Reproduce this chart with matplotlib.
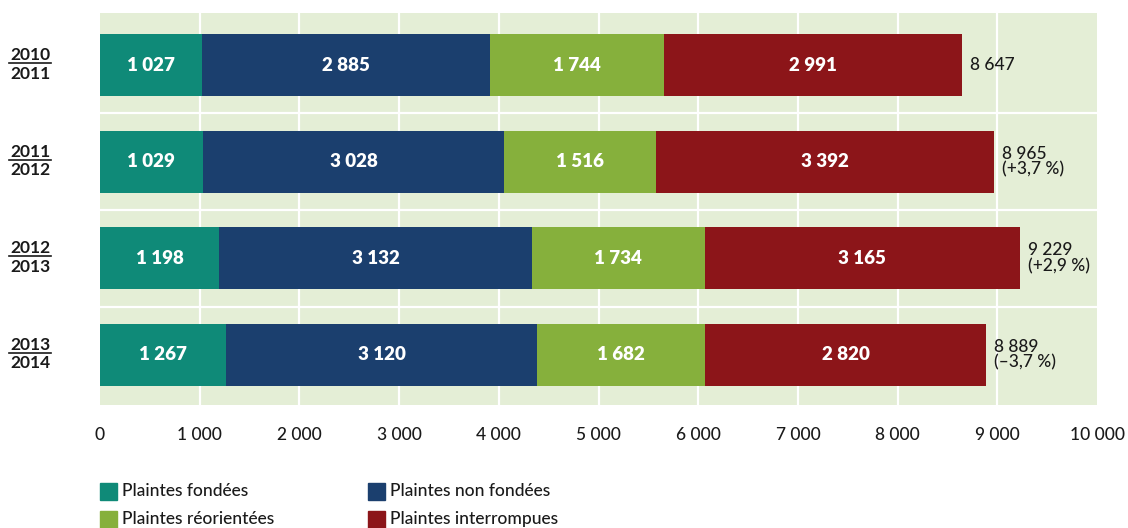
import matplotlib
matplotlib.use("Agg")
import matplotlib.pyplot as plt
from matplotlib.patches import Rectangle
from matplotlib.lines import Line2D
import numpy as np

plt.rcParams['font.family'] = ['Lato', 'DejaVu Sans']

periods_top = ["2010", "2011", "2012", "2013"]
periods_bottom = ["2011", "2012", "2013", "2014"]
categories = ["Plaintes fondées", "Plaintes non fondées", "Plaintes réorientées", "Plaintes interrompues"]
fondees = [1027, 1029, 1198, 1267]
non_fondees = [2885, 3028, 3132, 3120]
reorientees = [1744, 1516, 1734, 1682]
interrompues = [2991, 3392, 3165, 2820]
totals = ["8 647", "8 965", "9 229", "8 889"]
changes = ["", "(+3,7\u202f%)", "(+2,9\u202f%)", "(\u20133,7\u202f%)"]
xticks = [0, 1000, 2000, 3000, 4000, 5000, 6000, 7000, 8000, 9000, 10000]
xticklabels = ["0", "1 000", "2 000", "3 000", "4 000", "5 000", "6 000", "7 000", "8 000", "9 000", "10 000"]

colors = ["#0f8a78", "#1b3f6e", "#86b03c", "#8c1519"]
series = [fondees, non_fondees, reorientees, interrompues]

W, H = 1128, 528
fig = plt.figure(figsize=(W / 100, H / 100), dpi=100)
ax = fig.add_axes([100 / W, 1 - 405 / H, 997 / W, 392 / H])
ax.set_facecolor("#e4eed6")
for s in ax.spines.values():
    s.set_visible(False)

y = np.arange(len(fondees))
left = np.zeros(len(y))
for vals, col in zip(series, colors):
    vals = np.array(vals, dtype=float)
    ax.barh(y, vals, left=left, height=0.64, color=col, zorder=3)
    for yi, (l, v) in enumerate(zip(left, vals)):
        ax.text(l + v / 2, yi, f"{int(v):,}".replace(",", " "), ha="center", va="center",
                color="white", fontsize=13.5, fontweight="heavy", zorder=4)
    left = left + vals

for yi, tot in enumerate(left):
    txt = totals[yi] if not changes[yi] else totals[yi] + "\n" + changes[yi]
    ax.text(tot + 80, yi, txt, ha="left", va="center", fontsize=12.5, color="#1a1a1a",
            fontweight="medium", linespacing=0.95, zorder=4)

ax.set_xlim(0, 10000)
ax.set_ylim(3.52, -0.54)
ax.set_xticks(xticks)
ax.set_xticklabels(xticklabels, fontsize=12.5, color="#1a1a1a", fontweight="medium")
ax.tick_params(axis="x", length=0, pad=16)
ax.set_yticks([])
for xv in xticks[1:-1]:
    ax.axvline(xv, color="white", lw=1.6, zorder=1)
for yv in [0.5, 1.5, 2.5]:
    ax.axhline(yv, color="white", lw=1.6, zorder=1)

# period labels (fraction style)
for yi in range(len(y)):
    ax.text(-700, yi - 0.05, periods_top[yi], ha="center", va="baseline", fontsize=12.5,
            fontweight="bold", color="#1a1a1a", clip_on=False)
    ax.text(-700, yi + 0.005, periods_bottom[yi], ha="center", va="top", fontsize=12.5,
            fontweight="bold", color="#1a1a1a", clip_on=False)
    ax.add_line(Line2D([-910, -490], [yi - 0.022, yi - 0.022], color="#1a1a1a", lw=1.2,
                       clip_on=False))

# legend
leg_pos = [(100, 491), (368, 491), (100, 519), (368, 519)]
for i, (px, py) in enumerate(leg_pos):
    fig.add_artist(Rectangle((px / W, 1 - (py + 9) / H), 17 / W, 17 / H,
                             transform=fig.transFigure, color=colors[i]))
    fig.text((px + 22) / W, 1 - py / H, categories[i], ha="left", va="center",
             fontsize=12.5, color="#1a1a1a", fontweight="medium")

fig.savefig("out.png", dpi=100)
